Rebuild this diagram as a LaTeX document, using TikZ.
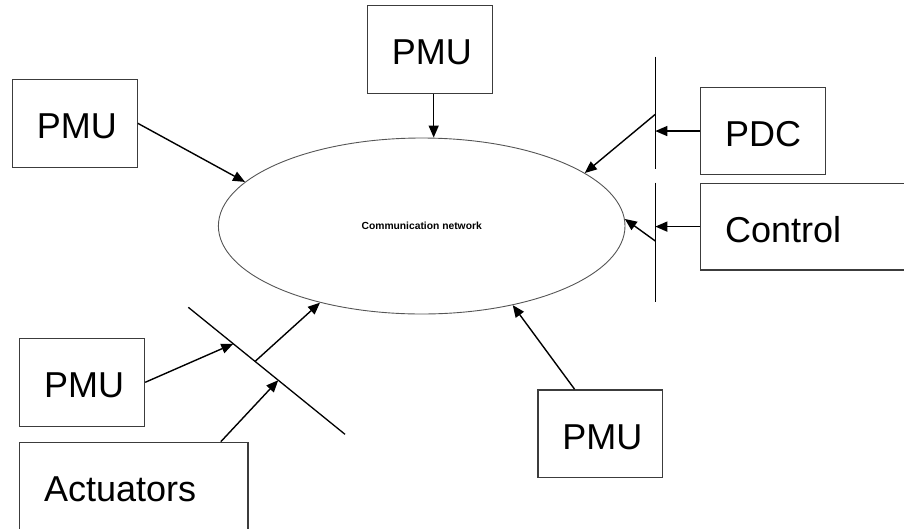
\documentclass[tikz,border=0pt]{standalone}
\usepackage{fontspec}
\setmainfont{Liberation Sans}
\usetikzlibrary{shapes.geometric,arrows.meta,calc}
\definecolor{edgegrey}{HTML}{3C3C3C}
\definecolor{ringgrey}{HTML}{555555}
\begin{document}
\begin{tikzpicture}[x=1pt,y=-1pt,
  boxnode/.style={draw=edgegrey, line width=1.2pt, rectangle, anchor=north west,
    inner xsep=0pt, inner ysep=0pt, text width=#1, align=left,
    minimum height=87.5pt, text height=31pt, text depth=0pt,
    font=\fontsize{36}{40}\selectfont,
    execute at begin node=\hspace*{24.5pt}},
  bar/.style={line width=1.3pt, black},
  arr/.style={line width=1.4pt, black, -{Triangle[length=12pt,width=10pt]}}]
\useasboundingbox (0,0) rectangle (904,528);
\clip (0,0) rectangle (904,528);

% communication network
\node[ellipse, draw=ringgrey, line width=0.9pt, minimum width=406.6pt,
      minimum height=176pt, inner sep=0pt,
      font=\fontsize{10.3}{12}\selectfont\bfseries] (net) at (421.7,226)
      {Communication network};

% devices
\node[boxnode=125pt] (pmuT) at (366.7,5) {PMU};
\node[boxnode=125pt] (pmuL) at (11.7,79) {PMU};
\node[boxnode=124.7pt] (pdc) at (700,86.7) {PDC};
\node[boxnode=230pt, minimum height=86.6pt] (ctrl) at (700,182.7) {Control};
\node[boxnode=125pt, minimum height=88pt] (pmuB) at (19,337.7) {PMU};
\node[boxnode=228.3pt] (act) at (19,441.7) {Actuators};
\node[boxnode=124.7pt] (pmuR) at (537.3,389.3) {PMU};

% access bars
\coordinate (v1a) at (655.3,56.7);
\coordinate (v1b) at (655.3,169);
\coordinate (v2a) at (655.3,182.7);
\coordinate (v2b) at (655.3,302.3);
\coordinate (da) at (188.3,307.3);
\coordinate (db) at (345,434.3);
\draw[bar] (v1a) -- (v1b);
\draw[bar] (v2a) -- (v2b);
\draw[bar] (da) -- (db);
\coordinate (j1) at (655.3,114.3);
\coordinate (j2) at (655.3,241);
\coordinate (dp) at ($(da)!0.287!(db)$);
\coordinate (dr) at ($(da)!0.426!(db)$);
\coordinate (dq) at ($(da)!0.574!(db)$);

% links
\draw[arr] (pmuL.east) -- (net.166.5);
\draw[arr] (pmuT.-85) -- (pmuT.-85 |- net.north);
\draw[arr] (pdc.west) -- (pdc.west -| v1a);
\draw[arr] (j1) -- (net.18.6);
\draw[arr] (ctrl.west) -- (ctrl.west -| v2a);
\draw[arr] (j2) -- (net.2.2);
\draw[arr] (pmuB.east) -- (dp);
\draw[arr] (act.27.2) -- (dq);
\draw[arr] (dr) -- (net.217.6);
\draw[arr] (pmuR.120.4) -- (net.-41.3);
\end{tikzpicture}
\end{document}
